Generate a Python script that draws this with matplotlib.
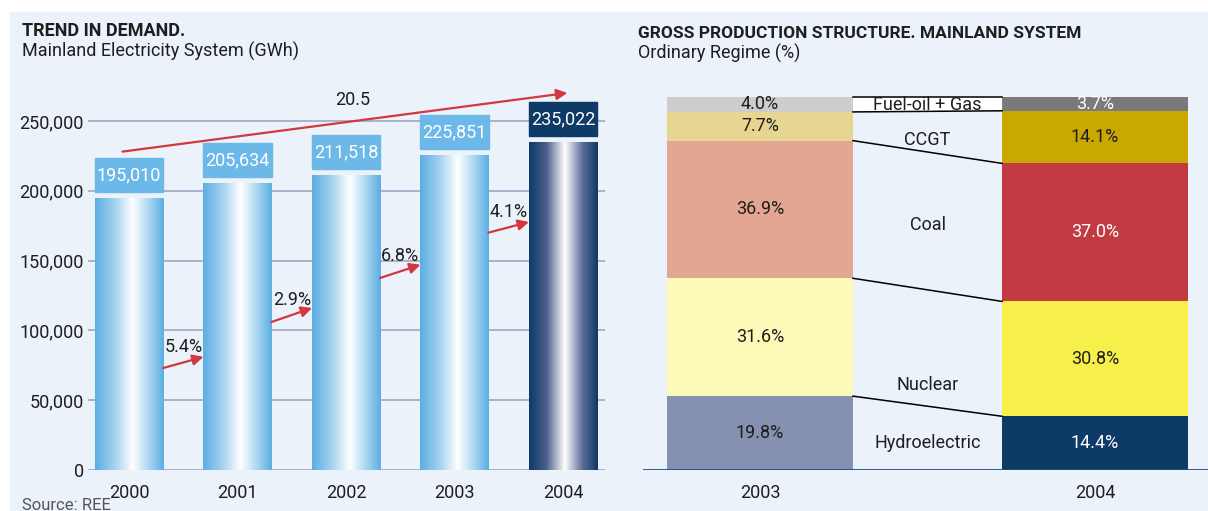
import matplotlib
matplotlib.use("Agg")
import numpy as np
import matplotlib.pyplot as plt
from matplotlib.patches import Rectangle, Polygon
from matplotlib.colors import LinearSegmentedColormap
from matplotlib import font_manager

# ---------------- data ----------------
years = ["2000", "2001", "2002", "2003", "2004"]
demand_gwh = [195010, 205634, 211518, 225851, 235022]
growth_labels = ["5.4%", "2.9%", "6.8%", "4.1%"]
total_growth_label = "20.5"
demand_ticks = [0, 50000, 100000, 150000, 200000, 250000]

structure_years = ["2003", "2004"]
sources = ["Hydroelectric", "Nuclear", "Coal", "CCGT", "Fuel-oil + Gas"]
share_2003 = [19.8, 31.6, 36.9, 7.7, 4.0]
share_2004 = [14.4, 30.8, 37.0, 14.1, 3.7]

# ---------------- style ----------------
names = {f.name for f in font_manager.fontManager.ttflist}
FONT = "Roboto" if "Roboto" in names else "DejaVu Sans"
plt.rcParams["font.family"] = [FONT, "DejaVu Sans"]

W, H = 1208, 511
BG = "#ebf2f9"
TXT = "#1e1e1e"
RED = "#d1383f"
GRID = "#aab3c9"
LIGHT_BOX = "#6cb8e8"
NAVY = "#0d3a66"
FS = 13

fig = plt.figure(figsize=(W / 100, H / 100), dpi=100, facecolor="white")


def frac(x, y):
    return x / W, 1 - y / H


def axes_px(x, y, w, h):
    return fig.add_axes([x / W, 1 - (y + h) / H, w / W, h / H])


# light panel background
fig.add_artist(Rectangle(frac(10, 511), (W - 10) / W, (511 - 12) / H,
                         transform=fig.transFigure, color=BG, zorder=-10))

# ================= left: demand trend =================
ax = axes_px(88, 79, 517, 391)
ax.set_facecolor("none")
x = np.arange(len(years))
bw = 0.627
ax.set_xlim(-0.378, 4.387)
ax.set_ylim(0, 280000)
for s in ax.spines.values():
    s.set_visible(False)
ax.set_yticks(demand_ticks)
ax.set_yticklabels([f"{t:,}" for t in demand_ticks])
ax.set_xticks(x)
ax.set_xticklabels(years)
ax.tick_params(axis="y", length=0, pad=3, labelsize=FS, labelcolor=TXT)
ax.tick_params(axis="x", length=0, pad=10, labelsize=FS, labelcolor=TXT)
for t in demand_ticks:
    ax.axhline(t, color=GRID, lw=1.4, zorder=1)

cm_light = LinearSegmentedColormap.from_list(
    "light", [(0, "#5aaee2"), (0.28, "#a3d1ef"), (0.55, "#ffffff"),
              (0.8, "#a6d3f0"), (1, "#5aaee2")])
cm_navy = LinearSegmentedColormap.from_list(
    "navy", [(0, "#0d3a66"), (0.25, "#4c5d8c"), (0.52, "#ffffff"),
             (0.78, "#5b6b97"), (1, "#0d3a66")])
grad = np.linspace(0, 1, 256).reshape(1, -1)

bars = ax.bar(x, demand_gwh, width=bw, color="none", zorder=2)
for i, (b, v) in enumerate(zip(bars, demand_gwh)):
    last = i == len(years) - 1
    im = ax.imshow(grad, cmap=cm_navy if last else cm_light, aspect="auto",
                   extent=[b.get_x(), b.get_x() + bw, 0, v], zorder=2,
                   interpolation="bilinear")
    im.set_clip_path(b)
    # value box above each bar
    box_bottom = v + 4000
    ax.add_patch(Rectangle((b.get_x(), box_bottom), bw, 24400,
                           color=NAVY if last else LIGHT_BOX, zorder=3))
    ax.text(i, box_bottom + 12200, f"{v:,}", color="white", ha="center",
            va="center", fontsize=FS, zorder=4)

# year-on-year growth arrows
step_arrow_y = [(73000, 81000), (106000, 116000), (137500, 147000),
                (170000, 177600)]
for i, (lab, (y0, y1)) in enumerate(zip(growth_labels, step_arrow_y)):
    xs, xe = i + bw / 2, i + 1 - bw / 2
    ax.annotate("", xy=(xe, y1), xytext=(xs, y0),
                arrowprops=dict(arrowstyle="-|>", color=RED, lw=1.6,
                                mutation_scale=16, shrinkA=0, shrinkB=0),
                zorder=5)
    ax.text((xs + xe) / 2, (y0 + y1) / 2 + 11000, lab, ha="center",
            va="center", fontsize=FS, color=TXT, zorder=6)

# overall growth arrow
ax.annotate("", xy=(4.04, 270000), xytext=(-0.06, 228000),
            arrowprops=dict(arrowstyle="-|>", color=RED, lw=1.6,
                            mutation_scale=16, shrinkA=0, shrinkB=0),
            zorder=5, annotation_clip=False)
ax.text(2.06, 265000, total_growth_label, ha="center", va="center",
        fontsize=FS, color=TXT)

fig.text(*frac(22, 31), "TREND IN DEMAND.", fontsize=FS, fontweight="bold",
         color=TXT, va="center", ha="left")
fig.text(*frac(22, 51), "Mainland Electricity System (GWh)", fontsize=FS,
         color=TXT, va="center", ha="left")
fig.text(*frac(22, 498), "Source: REE", fontsize=FS - 1, color="#555555",
         va="top", ha="left")

# ================= right: production structure =================
ax2 = axes_px(643, 97, 565, 373)
ax2.set_facecolor("none")
ax2.set_xlim(-0.349, 1.337)
ax2.set_ylim(0, 100)
for s in ax2.spines.values():
    s.set_visible(False)
ax2.set_yticks([])
ax2.set_xticks([0, 1])
ax2.set_xticklabels(structure_years)
ax2.tick_params(axis="x", length=0, pad=10, labelsize=FS, labelcolor=TXT)

sw = 0.555
colors_2003 = ["#8690b0", "#fdf9b9", "#e3a692", "#e7d592", "#cdcdcd"]
colors_2004 = [NAVY, "#f8f04a", "#c33b42", "#c9a801", "#7a7a7a"]
text_2004 = ["white", TXT, "white", TXT, "white"]

for xi, shares, cols, tcols in [(0, share_2003, colors_2003, [TXT] * 5),
                                (1, share_2004, colors_2004, text_2004)]:
    bottoms = np.concatenate([[0], np.cumsum(shares)[:-1]])
    ax2.bar([xi] * len(shares), shares, bottom=bottoms, width=sw,
            color=cols, zorder=2)
    for v, b0, tc in zip(shares, bottoms, tcols):
        ax2.text(xi, b0 + v / 2, f"{v:.1f}%", ha="center", va="center",
                 fontsize=FS, color=tc, zorder=4)

cum03 = np.cumsum(share_2003)
cum04 = np.cumsum(share_2004)
xr, xl = sw / 2, 1 - sw / 2

# white label strip for the smallest source
ax2.add_patch(Polygon([(xr, cum03[3]), (xl, cum04[3]), (xl, 100), (xr, 100)],
                      closed=True, facecolor="white", edgecolor="none",
                      zorder=2))
for a, b in zip(cum03, cum04):
    ax2.plot([xr, xl], [a, b], color="black", lw=1.1, zorder=3,
             clip_on=False)

label_y = [7.2, 22.8, 65.7, 88.5, 97.9]
for name, ly in zip(sources, label_y):
    ax2.text(0.5, ly, name, ha="center", va="center", fontsize=FS,
             color=TXT, zorder=4)

ax2.axhline(0, color="#1f4f82", lw=2, zorder=5)

fig.text(*frac(638, 33), "GROSS PRODUCTION STRUCTURE. MAINLAND SYSTEM",
         fontsize=FS - 0.5, fontweight="bold", color=TXT, va="center",
         ha="left")
fig.text(*frac(638, 53), "Ordinary Regime (%)", fontsize=FS, color=TXT,
         va="center", ha="left")

fig.savefig("out.png", dpi=100, facecolor="white")
